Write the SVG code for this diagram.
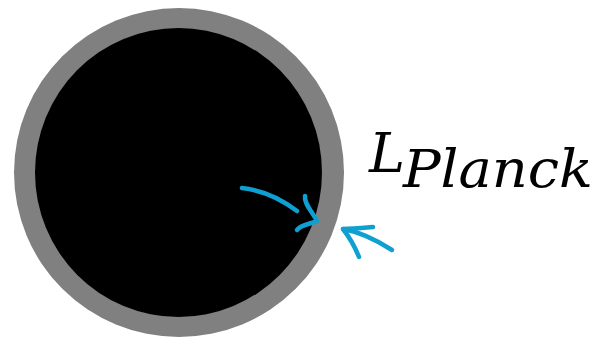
<svg xmlns="http://www.w3.org/2000/svg" width="599" height="339" viewBox="0 0 599 339">
<style>
.ink{fill:none;stroke:#0ea0d0;stroke-width:4.5;stroke-linecap:round;stroke-linejoin:round}
.lbl{font-family:"DejaVu Serif","Liberation Serif",serif;font-style:italic;fill:#000}
</style>
<rect width="599" height="339" fill="#fff"/>
<g id="planet">
<ellipse cx="179" cy="172.5" rx="165" ry="164.5" fill="#808080"/>
<ellipse cx="178.5" cy="172.5" rx="143.5" ry="144.5" fill="#000"/>
</g>
<g id="connectors">
<path class="ink" d="M242,188 C260,190 280,198 297,211"/>
<path class="ink" d="M305,196 C304,204 312,211 317,221 C310,224 300,225 297,230"/>
<path class="ink" d="M392,250 C378,241 360,232 343,229"/>
<path class="ink" d="M373,227 C362,228 352,229 343,229 C350,238 355,247 359,257"/>
</g>
<g id="label">
<text class="lbl" x="369" y="172" font-size="54" textLength="36" lengthAdjust="spacingAndGlyphs">L</text>
<text class="lbl" x="403" y="187" font-size="52" textLength="190" lengthAdjust="spacingAndGlyphs">Planck</text>
</g>
</svg>
